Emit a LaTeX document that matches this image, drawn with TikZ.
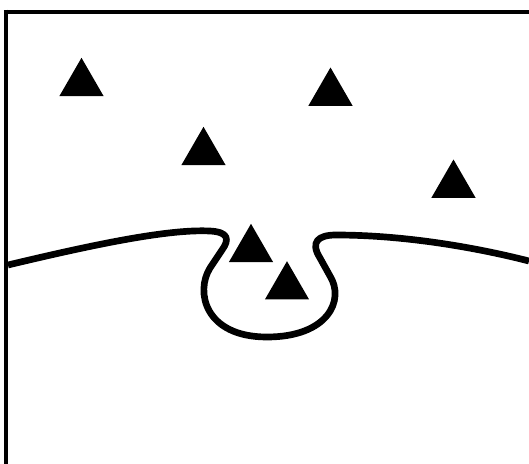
\documentclass[tikz,border=0pt]{standalone}
\usetikzlibrary{shapes.geometric}

\begin{document}
\begin{tikzpicture}[x=0.02cm, y=-0.02cm]
            % Estilos
            \tikzstyle{tri}=[regular polygon, regular polygon sides=3, fill=black, inner sep=0pt, minimum size=1.02cm]
            \tikzstyle{frame}=[line width=2.6pt]
            \tikzstyle{borda}=[line width=3.8pt, line join=round]

            \useasboundingbox (0,0) rectangle (529,464);

            % Moldura
            \draw[frame] (6,9.5) -- (6,464);
            \draw[frame] (4,12) -- (529,12);

            % Triangulos
            \node[tri] (t1) at (81.5,83.3) {};
            \node[tri] (t2) at (330.5,93) {};
            \node[tri] (t3) at (203.5,152.3) {};
            \node[tri] (t4) at (453.5,185) {};
            \node[tri] (t5) at (251,249.3) {};
            \node[tri] (t6) at (287,286.7) {};

            % Curva com bolso
            \draw[borda] (8,265) .. controls (100,243) and (170,229) .. (210,231)
                .. controls (228,232) and (230,239) .. (222,250)
                -- (210,268)
                .. controls (195,292) and (205,337) .. (267,337)
                .. controls (328,337) and (345,300) .. (330,276)
                -- (320,258)
                .. controls (310,242) and (318,235) .. (336,235)
                .. controls (400,235) and (470,246) .. (529,261);
        \end{tikzpicture}
\end{document}
